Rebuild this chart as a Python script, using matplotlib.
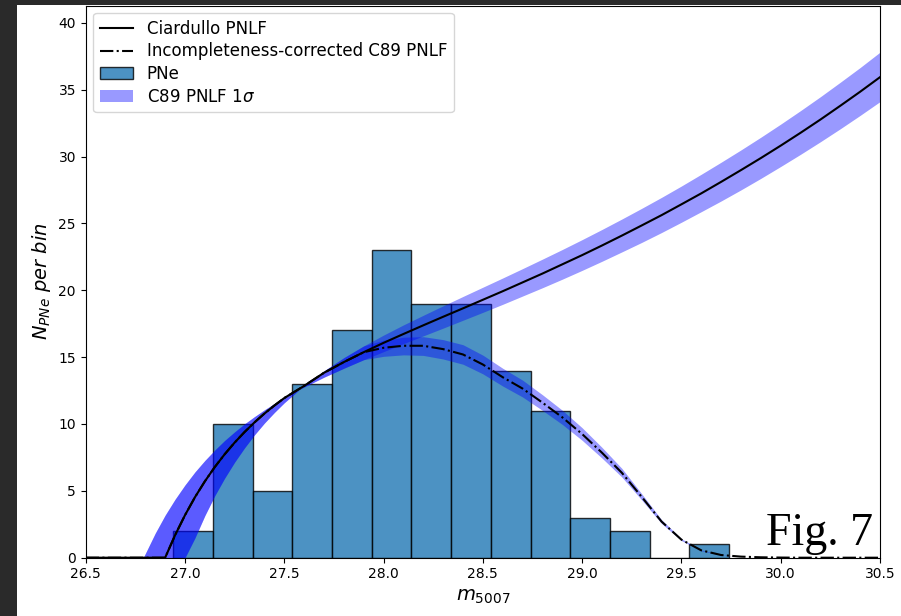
import numpy as np
import matplotlib
matplotlib.use("Agg")
import matplotlib.pyplot as plt
from matplotlib.patches import Rectangle

# ---------------- data ----------------
# histogram of PNe
bin_edges = [26.94, 27.14, 27.34, 27.54, 27.74, 27.94, 28.14, 28.34,
             28.54, 28.74, 28.94, 29.14, 29.34, 29.54, 29.74]
pne_counts = [2, 10, 5, 13, 17, 23, 19, 19, 14, 11, 3, 2, 0, 1]

# magnitude grid for the curves
m_grid = [26.5, 26.6, 26.7, 26.79, 26.85, 26.9,
          26.95, 27.0, 27.05, 27.1, 27.15, 27.2, 27.25, 27.3, 27.35, 27.4, 27.45, 27.5,
          27.6, 27.7, 27.8, 27.9, 28.0, 28.1, 28.2, 28.3, 28.4, 28.5, 28.6, 28.7,
          28.8, 28.9, 29.0, 29.1, 29.2, 29.3, 29.4, 29.5, 29.6, 29.7, 29.8, 29.9,
          30.0, 30.1, 30.2, 30.3, 30.4, 30.5]

# Ciardullo PNLF
ciardullo = [0, 0, 0, 0, 0, 0,
             1.68, 3.18, 4.52, 5.71, 6.78, 7.74, 8.61, 9.40, 10.12, 10.78, 11.38, 11.94,
             12.85, 13.83, 14.63, 15.37, 16.07, 16.73, 17.38, 18.02, 18.65, 19.29, 19.93, 20.59,
             21.25, 21.94, 22.63, 23.35, 24.09, 24.85, 25.62, 26.43, 27.25, 28.11, 28.99, 29.89,
             30.82, 31.78, 32.77, 33.80, 34.85, 35.94]

# 1 sigma band edges around the Ciardullo PNLF
c89_edge_1 = [0, 0, 0, 0, 1.83, 3.18,
              4.37, 5.44, 6.41, 7.27, 8.05, 8.77, 9.41, 10.01, 10.55, 11.06, 11.53, 11.97,
              12.77, 13.50, 14.17, 14.81, 15.41, 16.01, 16.59, 17.17, 17.76, 18.35, 18.95, 19.57,
              20.19, 20.83, 21.49, 22.17, 22.87, 23.58, 24.32, 25.09, 25.88, 26.68, 27.51, 28.37,
              29.26, 30.17, 31.11, 32.08, 33.08, 34.11]
c89_edge_2 = [0, 0, 0, 0, 0, 0,
              0, 0, 1.48, 3.15, 4.64, 5.96, 7.15, 8.22, 9.19, 10.07, 10.86, 11.59,
              12.88, 13.98, 14.96, 15.84, 16.65, 17.41, 18.13, 18.84, 19.54, 20.23, 20.92, 21.62,
              22.33, 23.05, 23.79, 24.55, 25.33, 26.13, 26.95, 27.80, 28.68, 29.58, 30.50, 31.45,
              32.43, 33.44, 34.48, 35.56, 36.66, 37.81]

# Incompleteness-corrected C89 PNLF
corrected = [0, 0, 0, 0, 0, 0,
             1.68, 3.18, 4.52, 5.71, 6.78, 7.74, 8.61, 9.40, 10.12, 10.78, 11.38, 11.94,
             12.85, 13.83, 14.63, 15.37, 15.70, 15.85, 15.85, 15.60, 15.20, 14.45, 13.50, 12.65,
             11.60, 10.50, 9.25, 7.85, 6.35, 4.55, 2.70, 1.35, 0.55, 0.20, 0.08, 0.03,
             0.01, 0, 0, 0, 0, 0]
corr_edge_1 = [0, 0, 0, 0, 1.83, 3.18,
               4.37, 5.44, 6.41, 7.27, 8.05, 8.77, 9.41, 10.01, 10.55, 11.06, 11.53, 11.97,
               12.77, 13.50, 14.17, 14.81, 15.06, 15.17, 15.13, 14.86, 14.47, 13.75, 12.84, 12.02,
               11.02, 9.97, 8.78, 7.45, 6.03, 4.32, 2.56, 1.28, 0.52, 0.19, 0.08, 0.03,
               0.01, 0, 0, 0, 0, 0]
corr_edge_2 = [0, 0, 0, 0, 0, 0,
               0, 0, 1.48, 3.15, 4.64, 5.96, 7.15, 8.22, 9.19, 10.07, 10.86, 11.59,
               12.88, 13.98, 14.96, 15.84, 16.27, 16.49, 16.53, 16.31, 15.93, 15.15, 14.17, 13.28,
               12.19, 11.03, 9.72, 8.25, 6.68, 4.78, 2.84, 1.42, 0.58, 0.21, 0.08, 0.03,
               0.01, 0, 0, 0, 0, 0]

x_ticks = [26.5, 27.0, 27.5, 28.0, 28.5, 29.0, 29.5, 30.0, 30.5]
y_ticks = [0, 5, 10, 15, 20, 25, 30, 35, 40]

# ---------------- figure ----------------
W, H = 901, 616
fig = plt.figure(figsize=(W / 100, H / 100), dpi=100, facecolor="#2a2a2a")
fig.patches.append(Rectangle((17 / W, 0), 1 - 17 / W, 1 - 5 / H,
                             transform=fig.transFigure, facecolor="white",
                             edgecolor="none", zorder=-10))

ax = fig.add_axes([85.7 / W, 1 - 557.7 / H, (880 - 85.7) / W, (557.7 - 5.5) / H])

edges = np.array(bin_edges)
widths = np.diff(edges)
bars = ax.bar(edges[:-1], pne_counts, width=widths, align="edge",
              color="C0", alpha=0.8, edgecolor="black", linewidth=1.0, label="PNe")

band = ax.fill_between(m_grid, c89_edge_1, c89_edge_2, color="blue", alpha=0.4,
                       linewidth=0, label=r"C89 PNLF 1$\sigma$")
ax.fill_between(m_grid, corr_edge_1, corr_edge_2, color="blue", alpha=0.4, linewidth=0)

l1, = ax.plot(m_grid, ciardullo, color="black", linestyle="-", linewidth=1.5,
              label="Ciardullo PNLF")
l2, = ax.plot(m_grid, corrected, color="black", linestyle="-.", linewidth=1.5,
              label="Incompleteness-corrected C89 PNLF")

ax.set_xlim(26.5, 30.5)
ax.set_ylim(0, 41.3)
ax.set_xticks(x_ticks)
ax.set_xticklabels([f"{v:.1f}" for v in x_ticks])
ax.set_yticks(y_ticks)
ax.tick_params(labelsize=10)

ax.set_xlabel(r"$m_{5007}$", fontsize=14)
ax.set_ylabel(r"$N_{PNe}$ $per$ $bin$", fontsize=14)

ax.legend(handles=[l1, l2, bars, band], loc="upper left", fontsize=12,
          labelspacing=0.28, borderaxespad=0.45)

ax.text(0.9915, 0.023, "Fig. 7", transform=ax.transAxes, ha="right", va="baseline",
        fontsize=33, family="Liberation Serif", color="black")

fig.savefig("out.png", dpi=100, facecolor=fig.get_facecolor())
